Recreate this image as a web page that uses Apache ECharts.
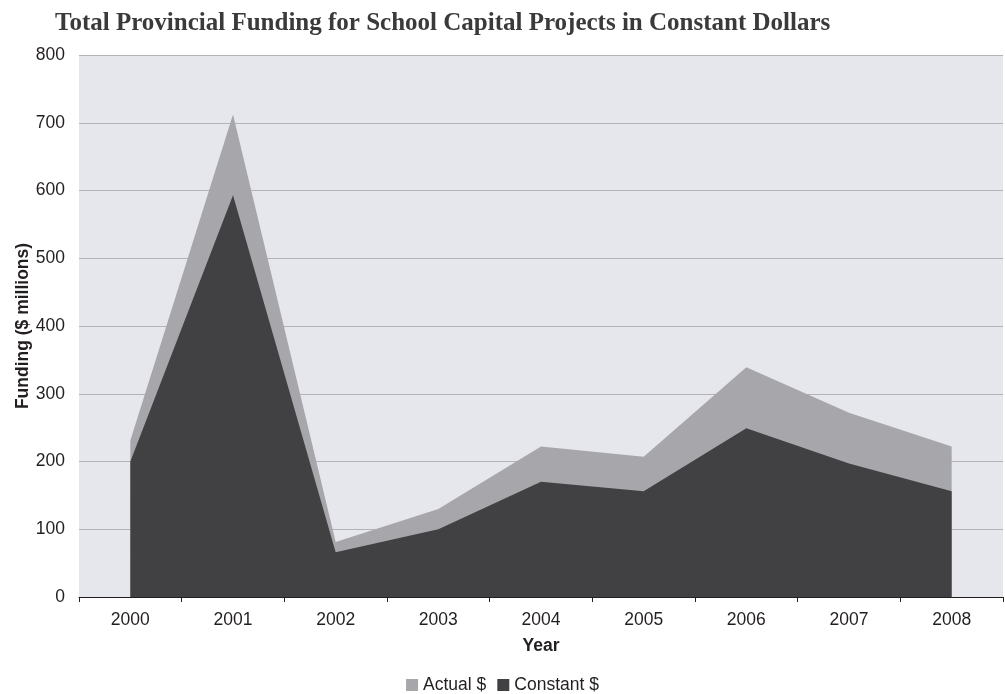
<!DOCTYPE html>
<html>
<head>
<meta charset="utf-8">
<script src="https://cdn.jsdelivr.net/npm/echarts@6/dist/echarts.min.js"></script>
<style>
  html, body { margin: 0; padding: 0; background: #ffffff; }
  #chart { width: 1005px; height: 694px; }
</style>
</head>
<body>
<div id="chart"></div>
<script>
// Funding by year, $ millions
const years = ['2000', '2001', '2002', '2003', '2004', '2005', '2006', '2007', '2008'];
const actualDollars = [231, 712, 81, 130, 222, 207, 339, 272, 222];
const constantDollars = [200, 593, 66, 100, 170, 156, 249, 197, 156];

const chart = echarts.init(document.getElementById('chart'));

const labelFont = { fontFamily: 'Liberation Sans', fontSize: 17.5, color: '#231f20' };

chart.setOption({
  animation: false,
  backgroundColor: '#ffffff',
  title: {
    text: 'Total Provincial Funding for School Capital Projects in Constant Dollars',
    left: 55,
    top: 11,
    padding: 0,
    textStyle: {
      fontFamily: 'Liberation Serif',
      fontWeight: 'bold',
      fontSize: 25,
      color: '#3a3a3a'
    }
  },
  legend: {
    bottom: 0,
    left: 'center',
    padding: 0,
    icon: 'rect',
    itemWidth: 12,
    itemHeight: 12,
    itemGap: 11,
    textStyle: Object.assign({}, labelFont),
    data: ['Actual $', 'Constant $']
  },
  grid: {
    left: 79,
    right: 2,
    top: 55,
    bottom: 97,
    show: true,
    backgroundColor: '#e6e7ec',
    borderWidth: 0
  },
  xAxis: {
    type: 'category',
    data: years,
    boundaryGap: true,
    name: 'Year',
    nameLocation: 'middle',
    nameGap: 40,
    nameMoveOverlap: false,
    nameTextStyle: Object.assign({}, labelFont, { fontWeight: 'bold' }),
    axisLine: { show: true, lineStyle: { color: '#231f20', width: 1 } },
    axisTick: { show: true, length: 5, lineStyle: { color: '#231f20' } },
    axisLabel: Object.assign({}, labelFont, { margin: 14 }),
    splitLine: { show: false }
  },
  yAxis: {
    type: 'value',
    min: 0,
    max: 800,
    interval: 100,
    name: 'Funding ($ millions)',
    nameLocation: 'middle',
    nameGap: 47,
    nameMoveOverlap: false,
    nameTextStyle: Object.assign({}, labelFont, { fontWeight: 'bold' }),
    axisLine: { show: false },
    axisTick: { show: false },
    axisLabel: Object.assign({}, labelFont, { margin: 14 }),
    splitLine: { show: true, lineStyle: { color: '#b3b3b7', width: 1 } }
  },
  series: [
    {
      name: 'Actual $',
      type: 'line',
      data: actualDollars,
      symbol: 'none',
      lineStyle: { width: 0 },
      itemStyle: { color: '#a7a6aa' },
      areaStyle: { color: '#a7a6aa', opacity: 1 },
      z: 2
    },
    {
      name: 'Constant $',
      type: 'line',
      data: constantDollars,
      symbol: 'none',
      lineStyle: { width: 0 },
      itemStyle: { color: '#414042' },
      areaStyle: { color: '#414042', opacity: 1 },
      z: 3
    }
  ]
});
</script>
</body>
</html>
